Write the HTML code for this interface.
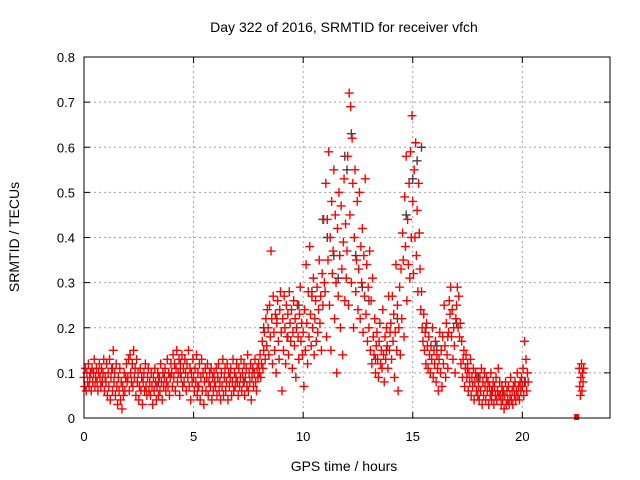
<!DOCTYPE html>
<html><head><meta charset="utf-8"><style>
html,body{margin:0;padding:0;background:#fff;}
svg{display:block;font-family:"Liberation Sans",sans-serif;}
</style></head><body>
<svg id="chart" width="640" height="480" viewBox="0 0 640 480" xmlns="http://www.w3.org/2000/svg">
<rect width="640" height="480" fill="#fff"/>
<text x="344" y="32" font-size="14" text-anchor="middle" fill="#000">Day 322 of 2016, SRMTID for receiver vfch</text>
<text transform="translate(19,237) rotate(-90)" font-size="14" text-anchor="middle" fill="#000">SRMTID / TECUs</text>
<text x="344" y="471" font-size="14" text-anchor="middle" fill="#000">GPS time / hours</text>
<g id="grid"></g><g id="ticks"></g><g id="marks"></g>
<rect x="84" y="57" width="526" height="361" fill="none" stroke="#000" stroke-width="1"/>
</svg>
<script>
const xTicks=[0,5,10,15,20];
const yTicks=[0,0.1,0.2,0.3,0.4,0.5,0.6,0.7,0.8];
const yTickLabels=["0","0.1","0.2","0.3","0.4","0.5","0.6","0.7","0.8"];
const redStart=0, redStep=0.1/3;
const redValues=[
.09,.07,.11,.06,.10,.08,.12,.07,.09,.10,.06,.11,.08,.10,.13,.07,.09,.11,.08,.06,.10,.12,.09,.07,.11,.08,.10,.13,.06,.09,
.08,.12,.05,.10,.07,.13,.04,.09,.11,.06,.15,.08,.10,.05,.12,.07,.03,.09,.06,.11,.04,.08,.02,.07,.05,.10,.06,.09,.12,.08,
.09,.13,.06,.14,.10,.08,.12,.07,.15,.09,.11,.05,.13,.08,.10,.04,.07,.11,.06,.09,.03,.08,.10,.06,.12,.07,.05,.09,.11,.06,
.08,.05,.10,.07,.03,.09,.06,.11,.08,.04,.07,.10,.05,.09,.06,.12,.08,.04,.10,.07,.09,.11,.06,.08,.13,.07,.10,.05,.09,.12,
.10,.07,.14,.09,.12,.06,.11,.15,.08,.10,.13,.05,.12,.09,.14,.07,.11,.08,.13,.10,.06,.12,.09,.15,.07,.11,.04,.10,.08,.13,
.09,.06,.11,.08,.14,.05,.10,.07,.12,.04,.09,.13,.06,.10,.03,.08,.11,.06,.09,.12,.05,.08,.10,.07,.11,.04,.09,.06,.10,.08,
.07,.11,.05,.09,.12,.06,.08,.04,.10,.07,.13,.05,.09,.11,.06,.08,.12,.04,.10,.07,.09,.11,.05,.08,.13,.06,.10,.07,.09,.12,
.08,.05,.11,.07,.09,.13,.06,.10,.08,.12,.05,.09,.11,.07,.14,.06,.10,.08,.12,.04,.09,.11,.07,.10,.13,.08,.06,.11,.09,.12,
.10,.14,.09,.12,.17,.11,.15,.19,.13,.22,.16,.24,.20,.14,.25,.18,.37,.22,.12,.27,.19,.15,.23,.10,.21,.26,.17,.13,.24,.28,
.19,.06,.22,.15,.27,.20,.12,.25,.18,.23,.14,.28,.21,.17,.24,.11,.19,.26,.16,.22,.09,.20,.25,.18,.13,.23,.29,.17,.21,.14,
.19,.07,.24,.15,.34,.21,.12,.28,.18,.38,.23,.16,.27,.20,.31,.14,.22,.26,.17,.29,.19,.24,.35,.21,.27,.15,.32,.25,.44,.30,
.28,.52,.18,.44,.35,.59,.25,.40,.15,.48,.32,.37,.55,.22,.45,.30,.10,.42,.27,.50,.36,.20,.47,.33,.14,.39,.53,.26,.43,.31,
.37,.58,.25,.72,.45,.69,.30,.62,.52,.20,.40,.55,.28,.35,.48,.24,.33,.50,.22,.38,.30,.42,.19,.36,.27,.53,.23,.34,.17,.29,
.20,.37,.15,.26,.12,.31,.18,.14,.22,.10,.16,.19,.13,.09,.17,.21,.12,.15,.11,.24,.14,.08,.18,.13,.20,.16,.11,.27,.15,.19,
.21,.13,.27,.17,.23,.09,.19,.34,.15,.25,.06,.20,.29,.14,.33,.22,.41,.35,.18,.49,.38,.58,.26,.44,.34,.52,.31,.59,.40,.67,
.48,.32,.55,.40,.61,.36,.46,.28,.52,.41,.33,.24,.28,.20,.17,.23,.15,.19,.12,.21,.16,.11,.18,.14,.10,.16,.13,.20,.09,.15,
.12,.17,.08,.14,.11,.06,.13,.19,.10,.15,.07,.18,.12,.25,.16,.09,.21,.14,.11,.19,.26,.23,.29,.18,.24,.13,.20,.16,.10,.22,
.25,.29,.20,.27,.18,.21,.12,.17,.09,.13,.15,.07,.11,.14,.09,.12,.06,.10,.08,.13,.05,.09,.07,.11,.04,.08,.10,.06,.09,.05,
.07,.04,.09,.06,.11,.03,.08,.05,.10,.07,.04,.09,.06,.08,.03,.07,.05,.10,.04,.06,.08,.03,.07,.05,.09,.04,.06,.11,.05,.08,
.05,.03,.07,.04,.06,.02,.05,.08,.03,.06,.04,.07,.03,.05,.09,.04,.06,.03,.07,.05,.08,.04,.06,.10,.05,.07,.04,.08,.06,.09,
.07,.11,.05,.17,.08,.13,.06,.10,.08];
const lateTimes=[22.6,22.62,22.65,22.67,22.7,22.72,22.75,22.77,22.8];
const lateValues=[.11,.07,.05,.09,.12,.06,.10,.08,.11];
const blackTimes=[0.3,1.3,2.2,3.4,4.4,5.2,6.1,7.3,8.2,8.8,9.3,9.8,10.4,10.9,11.1,11.4,11.6,11.9,12.0,12.2,12.4,12.7,13.0,13.3,13.8,14.3,14.7,15.0,15.2,15.4,15.6,16.1,16.6,17.0,17.5,18.0,18.6,19.1,19.6,20.1];
const blackValues=[.10,.11,.12,.08,.10,.07,.09,.08,.20,.22,.18,.25,.28,.44,.40,.36,.31,.58,.55,.63,.36,.29,.26,.13,.15,.22,.45,.53,.57,.60,.20,.16,.18,.21,.11,.09,.06,.05,.07,.08];
const squareTime=[22.5], squareValue=[0];

const NS="http://www.w3.org/2000/svg";
const X0=84,X1=610,Y0=418,Y1=57;
function xs(t){return X0+t*(X1-X0)/24;}
function ys(v){return Y0-v*(Y0-Y1)/0.8;}
const grid=document.getElementById('grid'),ticks=document.getElementById('ticks'),marks=document.getElementById('marks');
function el(tag,attrs,parent){const e=document.createElementNS(NS,tag);for(const k in attrs)e.setAttribute(k,attrs[k]);parent.appendChild(e);return e;}
xTicks.forEach(t=>{
  const x=xs(t);
  if(t>0){const g=el('line',{x1:x,x2:x,y1:Y0,y2:Y1,stroke:'#a0a0a0','stroke-dasharray':'2,3'},grid);
  
  }
  el('line',{x1:x,x2:x,y1:Y0,y2:Y0-6,stroke:'#000'},ticks);
  el('line',{x1:x,x2:x,y1:Y1,y2:Y1+6,stroke:'#000'},ticks);
  const tx=el('text',{x:x,y:Y0+23,'font-size':13,'text-anchor':'middle'},ticks);
  tx.textContent=String(t);
  
  
});
yTicks.forEach((v,i)=>{
  const y=ys(v);
  if(v>0&&v<0.8){const g=el('line',{x1:X0,x2:X1,y1:y,y2:y,stroke:'#a0a0a0','stroke-dasharray':'2,3'},grid);
  
  }
  el('line',{x1:X0,x2:X0+6,y1:y,y2:y,stroke:'#000'},ticks);
  el('line',{x1:X1,x2:X1-6,y1:y,y2:y,stroke:'#000'},ticks);
  const tx=el('text',{x:X0-9,y:y+5,'font-size':13,'text-anchor':'end'},ticks);
  tx.textContent=yTickLabels[i];
  
  
});
function plus(t,v,color,name){
  const x=xs(t),y=ys(v);
  const p=el('path',{d:`M${x-4.5},${y}h9M${x},${y-4.5}v9`,stroke:color,'stroke-width':1.4,fill:'none'},marks);
  
  
}
blackTimes.forEach((t,i)=>plus(t,blackValues[i],'#404040','black-point'));
redValues.forEach((v,i)=>plus(redStart+i*redStep,v,'#ff0000','red-point'));
lateTimes.forEach((t,i)=>plus(t,lateValues[i],'#ff0000','red-point'));
squareTime.forEach((t,i)=>{
  const r=el('rect',{x:xs(t)-3,y:ys(squareValue[i])-4,width:5,height:6,fill:'#ff0000'},marks);
  
  
});
</script>
</body></html>
